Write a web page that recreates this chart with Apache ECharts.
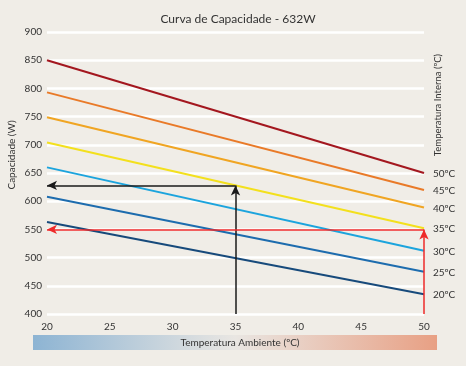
<!DOCTYPE html>
<html><head><meta charset="utf-8">
<script src="https://cdn.jsdelivr.net/npm/echarts@6/dist/echarts.min.js"></script>
<style>html,body{margin:0;padding:0;background:#f0ede7;}#c{width:466px;height:366px;}</style>
</head><body><div id="c"></div>
<script>
const ambient = [20, 50];
const seriesNames = ['50ºC', '45ºC', '40ºC', '35ºC', '30ºC', '25ºC', '20ºC'];
const s50 = [850, 650];
const s45 = [793, 620];
const s40 = [749, 589];
const s35 = [704, 552];
const s30 = [660, 512];
const s25 = [608, 475];
const s20 = [563, 435];
const colors = ['#a3171f', '#e97a28', '#f0a522', '#f3e01d', '#1ca4dd', '#1d6cae', '#174a7b'];
const xTicks = [20, 25, 30, 35, 40, 45, 50];
const yTicks = [400, 450, 500, 550, 600, 650, 700, 750, 800, 850, 900];
const blackPath = [[35, 400], [35, 628], [20, 628]];
const redPath = [[50, 400], [50, 550], [20, 550]];

const all = [s50, s45, s40, s35, s30, s25, s20];
const font = "Lato, sans-serif";
const chart = echarts.init(document.getElementById('c'));
const series = all.map((vals, i) => ({
  type: 'line',
  name: seriesNames[i],
  data: ambient.map((x, j) => [x, vals[j]]),
  showSymbol: false,
  symbol: 'none',
  lineStyle: { color: colors[i], width: 2 },
  itemStyle: { color: colors[i] },
  endLabel: { show: true, formatter: seriesNames[i], color: '#333', fontSize: 10, fontFamily: font, offset: [1, 1] },
  z: 3,
  silent: true
}));
function arrowLines(path, color) {
  return {
    type: 'line', data: [], z: 5,
    markLine: {
      silent: true, animation: false,
      symbol: ['none', 'arrow'], symbolSize: [7, 10],
      label: { show: false },
      lineStyle: { color: color, width: 1.5, type: 'solid' },
      data: [
        [{ coord: path[0] }, { coord: path[1] }],
        [{ coord: path[1] }, { coord: path[2] }]
      ]
    }
  };
}
series.push(arrowLines(blackPath, '#1a1a1a'));
series.push(arrowLines(redPath, '#ee2a2a'));

chart.setOption({
  backgroundColor: '#f0ede7',
  animation: false,
  title: { text: 'Curva de Capacidade - 632W', left: 233, top: 8, textAlign: 'center',
    textStyle: { fontSize: 12, fontWeight: 'normal', color: '#333', fontFamily: font } },
  grid: { left: 47, right: 42, top: 32, bottom: 52, outerBoundsMode: 'none', containLabel: false },
  xAxis: {
    type: 'value', min: 20, max: 50, interval: 5,
    axisLine: { show: false }, axisTick: { show: false }, splitLine: { show: false },
    axisLabel: { color: '#333', fontSize: 10, fontFamily: font, margin: 8,
      formatter: v => xTicks.includes(v) ? String(v) : '' }
  },
  yAxis: {
    type: 'value', min: 400, max: 900, interval: 50,
    axisLine: { show: false }, axisTick: { show: false },
    splitLine: { lineStyle: { color: '#ffffff', width: 2.5 } },
    axisLabel: { color: '#333', fontSize: 10, fontFamily: font, margin: 5,
      formatter: v => yTicks.includes(v) ? String(v) : '' }
  },
  graphic: [
    { type: 'rect', shape: { x: 33, y: 335, width: 404, height: 15 },
      style: { fill: new echarts.graphic.LinearGradient(0, 0, 1, 0, [
        { offset: 0, color: '#8db4d3' },
        { offset: 0.5, color: '#e9e6e2' },
        { offset: 1, color: '#e8a084' }
      ]) } },
    { type: 'text', x: 240, y: 343, style: { text: 'Temperatura Ambiente (ºC)', fill: '#333',
      font: "10px Lato, sans-serif", textAlign: 'center', textVerticalAlign: 'middle' } },
    { type: 'text', x: 12, y: 155, rotation: Math.PI / 2, style: { text: 'Capacidade (W)', fill: '#333',
      font: "10px Lato, sans-serif", textAlign: 'center', textVerticalAlign: 'middle' } },
    { type: 'text', x: 438, y: 105, rotation: Math.PI / 2, style: { text: 'Temperatura Interna (ºC)', fill: '#333',
      font: "9.5px Lato, sans-serif", textAlign: 'center', textVerticalAlign: 'middle' } }
  ],
  series: series
});
</script></body></html>
